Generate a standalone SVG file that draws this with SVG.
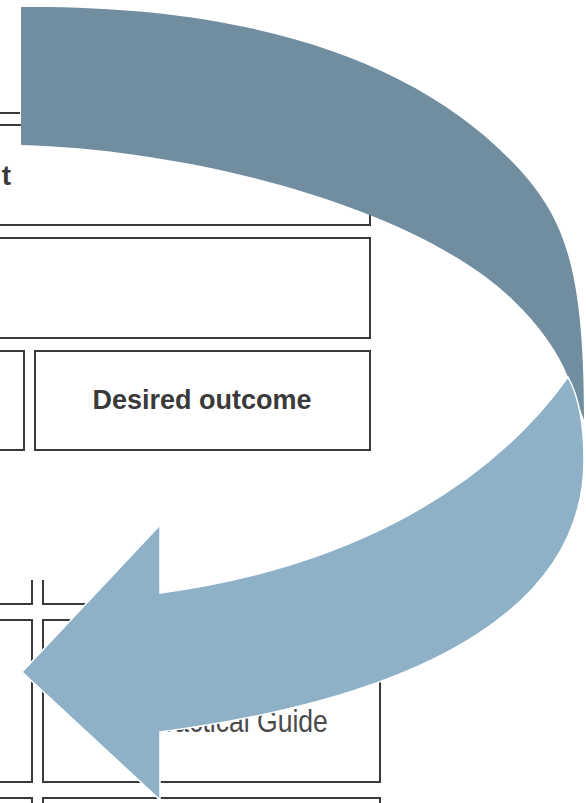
<svg xmlns="http://www.w3.org/2000/svg" width="586" height="803" viewBox="0 0 586 803">
  <style>
    .box { fill: #ffffff; stroke: #3a3a3a; stroke-width: 2; }
    .ln { fill: none; stroke: #3a3a3a; stroke-width: 2; }
    .bold { font-family: "Liberation Sans", Arial, sans-serif; font-weight: bold; fill: #3a3a3a; }
    .reg { font-family: "Liberation Sans", Arial, sans-serif; fill: #4a4a4a; }
    .dark { fill: #718ea0; }
    .light { fill: #8fb1c8; stroke: #ffffff; stroke-width: 1.5; stroke-linejoin: miter; }
  </style>
  <rect width="586" height="803" fill="#ffffff"/>

  <g id="header-row">
    <path class="ln" d="M-2,113 H20"/>
  </g>
  <g id="box-top">
    <rect class="box" x="-2" y="125" width="372" height="100"/>
    <text class="bold" x="11" y="185" font-size="28" text-anchor="end">t</text>
  </g>
  <g id="box-second">
    <rect class="box" x="-2" y="238" width="372" height="100"/>
  </g>
  <g id="box-left-3">
    <rect class="box" x="-2" y="351" width="26" height="99"/>
  </g>
  <g id="box-desired">
    <rect class="box" x="35" y="351" width="335" height="99"/>
    <text class="bold" x="202" y="409" font-size="27" text-anchor="middle">Desired outcome</text>
  </g>

  <g id="lower-row-a">
    <path class="ln" d="M32,580 V604 H-2"/>
    <path class="ln" d="M43,580 V604 H380 V560"/>
  </g>
  <g id="lower-left-b">
    <rect class="box" x="-2" y="620" width="34" height="162"/>
  </g>
  <g id="lower-guide">
    <rect class="box" x="43" y="620" width="337" height="162"/>
    <text class="reg" transform="scale(0.83,1)" x="395" y="732" font-size="32" text-anchor="end">A Practical Guide</text>
  </g>
  <g id="lower-row-c">
    <path class="ln" d="M-2,798 H32 V806"/>
    <path class="ln" d="M43,806 V798 H380 V806"/>
  </g>

  <g id="connectors">
    <path class="dark" d="M21,7 C250,5 420,60 520,170 C565,220 584,270 584,420 L568,377 C558,352 540,326 513,300 C420,210 200,150 21,145 Z"/>
    <path class="light" d="M568,377 C578,395 584,420 584,460 C584,600 440,695 160,732 L160,800 L22,672 L160,525 L160,593 C330,570 480,500 568,377 Z"/>
  </g>
</svg>
